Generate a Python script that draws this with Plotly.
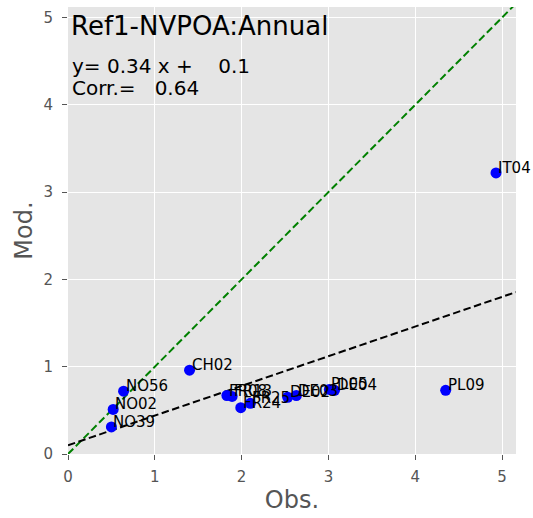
import plotly.graph_objects as go

names = ["IT04", "PL09", "CH02", "NO56", "NO02", "NO39", "FR08", "FR13", "FR24", "FR25",
         "DE02", "DE03", "PL05", "DE04"]
obs = [4.93, 4.35, 1.40, 0.64, 0.52, 0.50, 1.83, 1.89, 1.99, 2.10, 2.53, 2.63, 3.01, 3.07]
mod = [3.22, 0.73, 0.96, 0.72, 0.51, 0.31, 0.67, 0.66, 0.53, 0.58, 0.65, 0.67, 0.74, 0.73]
slope = 0.34
intercept = 0.1
corr = 0.64
title = "Ref1-NVPOA:Annual"
xlim = 5.16
ylim = 5.12
ticks = [0, 1, 2, 3, 4, 5]

fig = go.Figure()
fig.add_trace(go.Scatter(x=[0, xlim], y=[0, xlim], mode="lines",
                         line=dict(color="green", width=2, dash="7.5px,3.5px"), hoverinfo="skip"))
fig.add_trace(go.Scatter(x=[0, xlim], y=[intercept, intercept + slope * xlim], mode="lines",
                         line=dict(color="black", width=2, dash="7.5px,3.5px"), hoverinfo="skip"))
fig.add_trace(go.Scatter(x=obs, y=mod, mode="markers",
                         marker=dict(color="blue", size=11, line=dict(width=0))))

for n, xv, yv in zip(names, obs, mod):
    fig.add_annotation(x=xv, y=yv, text=n, showarrow=False, xanchor="left", yanchor="bottom",
                       xshift=0, yshift=-6,
                       font=dict(family="DejaVu Sans", size=15, color="black"))

fig.add_annotation(xref="x domain", yref="y domain", x=0.0, y=0.995, xanchor="left", yanchor="top",
                   xshift=1, text=title, showarrow=False,
                   font=dict(family="DejaVu Sans", size=26, color="black"))
fig.add_annotation(xref="x domain", yref="y domain", x=0.0, y=0.900, xanchor="left", yanchor="top",
                   xshift=2, text=f"y= {slope:.2f} x +\u00a0\u00a0\u00a0\u00a0{intercept}",
                   showarrow=False, align="left",
                   font=dict(family="DejaVu Sans", size=20, color="black"))
fig.add_annotation(xref="x domain", yref="y domain", x=0.0, y=0.850, xanchor="left", yanchor="top",
                   xshift=2, text=f"Corr.=\u00a0\u00a0\u00a0{corr:.2f}",
                   showarrow=False, align="left",
                   font=dict(family="DejaVu Sans", size=20, color="black"))

axis_common = dict(showgrid=True, gridcolor="white", gridwidth=1.3,
                   zeroline=False, ticks="outside", ticklen=5, tickcolor="#555", tickwidth=1,
                   tickfont=dict(family="DejaVu Sans", size=15, color="#555"),
                   tickvals=ticks, showline=False)
fig.update_xaxes(range=[0, xlim], ticklabelstandoff=4,
                 title=dict(text="Obs.", font=dict(family="DejaVu Sans", size=24, color="#555"), standoff=6),
                 **axis_common)
fig.update_yaxes(range=[0, ylim], ticklabelstandoff=6,
                 title=dict(text="Mod.", font=dict(family="DejaVu Sans", size=24, color="#555"), standoff=4),
                 **axis_common)
fig.update_layout(width=533, height=518, margin=dict(l=68, r=17, t=7, b=64),
                  plot_bgcolor="#e5e5e5", paper_bgcolor="white", showlegend=False)
fig.write_html("out.html")
